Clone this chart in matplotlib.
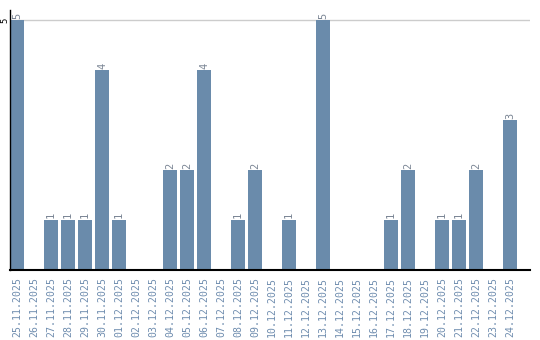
import matplotlib
matplotlib.use("Agg")
import matplotlib.pyplot as plt

dates = ["25.11.2025", "26.11.2025", "27.11.2025", "28.11.2025", "29.11.2025",
         "30.11.2025", "01.12.2025", "02.12.2025", "03.12.2025", "04.12.2025",
         "05.12.2025", "06.12.2025", "07.12.2025", "08.12.2025", "09.12.2025",
         "10.12.2025", "11.12.2025", "12.12.2025", "13.12.2025", "14.12.2025",
         "15.12.2025", "16.12.2025", "17.12.2025", "18.12.2025", "19.12.2025",
         "20.12.2025", "21.12.2025", "22.12.2025", "23.12.2025", "24.12.2025"]
values = [5, 0, 1, 1, 1, 4, 1, 0, 0, 2, 2, 4, 0, 1, 2, 0, 1, 0, 5, 0,
          0, 0, 1, 2, 0, 1, 1, 2, 0, 3]

bar_color = "#6a8bab"
label_color = "#6f8daf"
mono = "DejaVu Sans Mono"

fig = plt.figure(figsize=(5.4, 3.4), dpi=100)
ax = fig.add_axes([10/540, 70/340, 520/540, 260/340])
x = list(range(len(dates)))
ax.bar(x, values, width=14/17, color=bar_color, zorder=2)
for xi, v in zip(x, values):
    if v > 0:
        ax.text(xi, v + 0.03, str(v), rotation=90, ha="center", va="bottom",
                fontsize=7.5, color="#7a8594", family=mono)
ax.set_xlim(-0.41, 30.18)
ax.set_ylim(0, 5.2)
ax.set_yticks([5])
ax.set_yticklabels(["5"], rotation=90, va="center", fontsize=6.5, family=mono)
ax.yaxis.grid(True, color="#cccccc", linewidth=1, zorder=0)
ax.set_xticks(x)
ax.set_xticklabels(dates, rotation=90, fontsize=7.1, color=label_color, family=mono)
ax.tick_params(axis="x", length=0, pad=5)
ax.tick_params(axis="y", length=0, pad=0.5)
for s in ["top", "right"]:
    ax.spines[s].set_visible(False)
ax.spines["bottom"].set_color("black")
ax.spines["bottom"].set_linewidth(1.5)
ax.spines["left"].set_color("black")
ax.spines["left"].set_linewidth(1)
fig.savefig("out.png", dpi=100)
